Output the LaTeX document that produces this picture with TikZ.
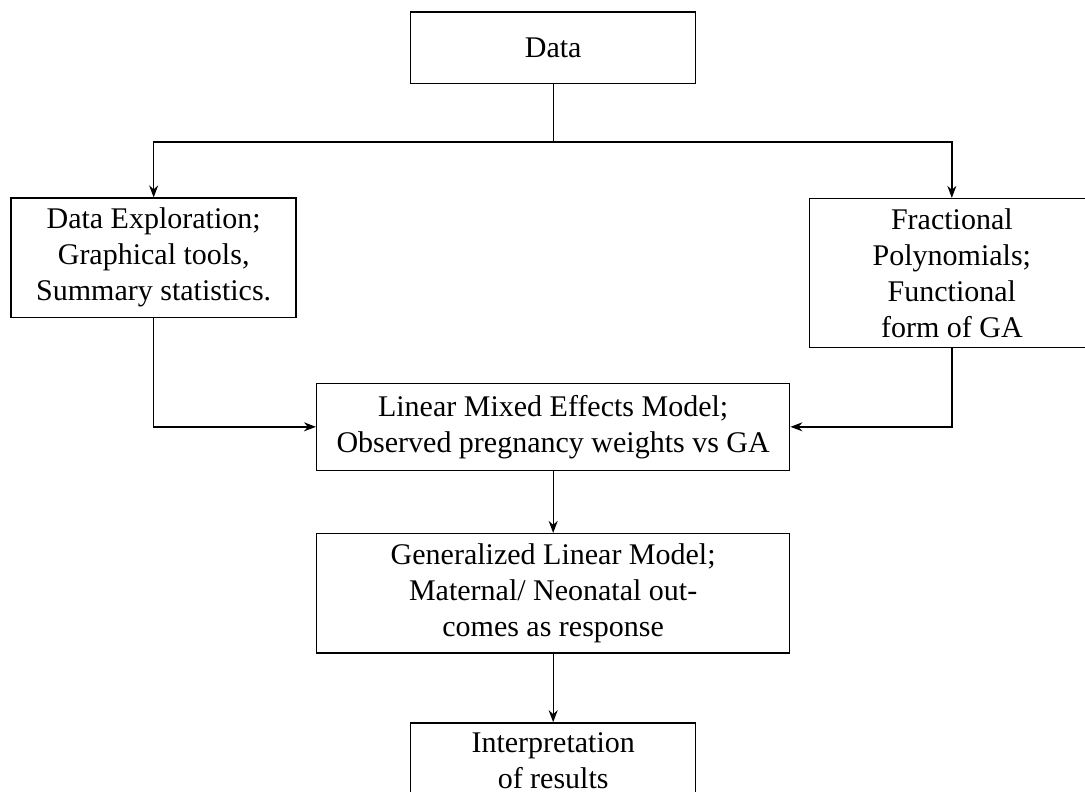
\documentclass[tikz,border=0pt]{standalone}
\usepackage{fontspec}
\setmainfont{Liberation Serif}
\usepackage{tikz}
\usetikzlibrary{arrows.meta}
\tikzset{
  box/.style={draw, line width=0.5pt, align=center, font=\fontsize{10}{12}\selectfont, minimum width=3.34cm},
  widebox/.style={box, minimum width=5.54cm},
  link/.style={draw, line width=0.45pt},
  arrow/.style={link, -{Stealth[length=4pt, width=3pt]}}
}
\begin{document}
\begin{tikzpicture}
  \useasboundingbox (0,0) rectangle (12.71,-9.27);

  \node[box, minimum height=0.84cm] (data) at (6.48,-0.56) {Data};
  \node[box, minimum height=1.38cm] (explore) at (1.80,-3.02) {Data Exploration;\\ Graphical tools,\\ Summary statistics.};
  \node[box, minimum height=1.73cm] (frac) at (11.15,-3.20) {Fractional\\ Polynomials;\\ Functional\\ form of GA};
  \node[widebox, minimum height=1.02cm] (lme) at (6.48,-5.00) {Linear Mixed Effects Model;\\ Observed pregnancy weights vs GA};
  \node[widebox, minimum height=1.38cm] (glm) at (6.48,-6.95) {Generalized Linear Model;\\ Maternal/ Neonatal out-\\ comes as response};
  \node[box, anchor=north] (interp) at (6.48,-8.46) {Interpretation\\ of results};

  \coordinate (split) at (6.48,-1.664);

  \draw[link] (data.south) -- (split);
  \draw[arrow] (split) -| (explore.north);
  \draw[arrow] (split) -| (frac.north);
  \draw[arrow] (explore.south) |- (lme.west);
  \draw[arrow] (frac.south) |- (lme.east);
  \draw[arrow] (lme.south) -- (glm.north);
  \draw[arrow] (glm.south) -- (interp.north);
\end{tikzpicture}
\end{document}
